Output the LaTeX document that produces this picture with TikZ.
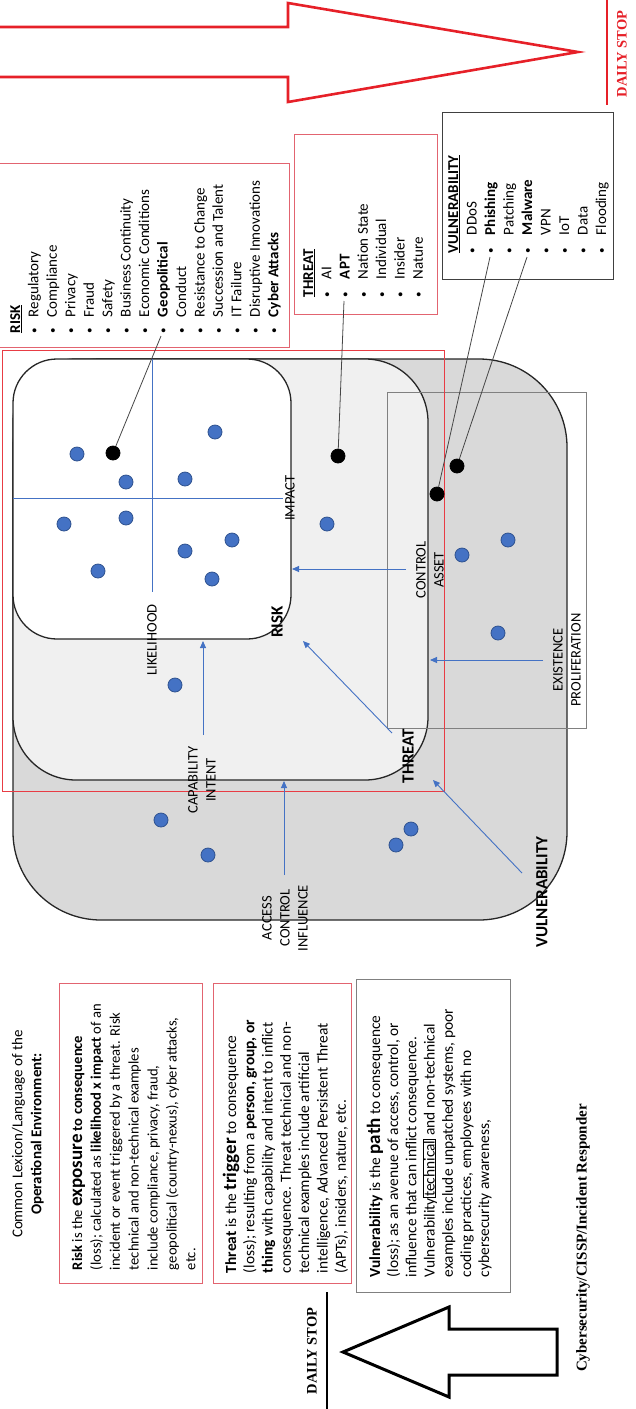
\documentclass[tikz,border=0pt]{standalone}
\usepackage{fontspec}
\setmainfont{Carlito}
\newfontfamily\timesbf[BoldFont={Liberation Serif Bold}]{Liberation Serif}
\usetikzlibrary{arrows.meta}

\definecolor{dotblue}{RGB}{68,114,196}
\definecolor{dotedge}{RGB}{47,82,143}
\definecolor{pinkline}{RGB}{226,100,112}
\definecolor{redline}{RGB}{232,60,68}
\definecolor{arrowred}{RGB}{230,32,40}
\definecolor{outergray}{RGB}{217,217,217}
\definecolor{midgray}{RGB}{240,240,240}
\definecolor{framegray}{RGB}{128,128,128}
\definecolor{leadgray}{RGB}{70,70,70}

% list bullet of fixed width
\newcommand{\lbul}[1]{\makebox[#1][l]{\raisebox{0.9pt}{\fontsize{11}{11}\selectfont\textbullet}}}
% enlarged bold keyword
\newcommand{\kw}[1]{{\bfseries\fontsize{19}{19}\selectfont #1}}

\begin{document}
\begin{tikzpicture}[x=1pt,y=-1pt,
  rt/.style={rotate=90, inner sep=0pt, outer sep=0pt},
  lst/.style={rt, anchor=base west, font=\fontsize{15}{18}\selectfont},
  dfl/.style={rt, anchor=base west, font=\fontsize{15.4}{19}\selectfont},
  dfs/.style={rt, anchor=base west, font=\fontsize{14.6}{19}\selectfont},
  hd/.style={rt, anchor=base, font=\fontsize{15}{19}\selectfont},
  lbl/.style={rt, align=center, font=\fontsize{14.5}{18}\selectfont},
  blbl/.style={rt, font=\bfseries\fontsize{17}{20}\selectfont},
  dot/.style={circle, fill=dotblue, draw=dotedge, line width=0.8pt, minimum size=14pt, inner sep=0pt},
  bdot/.style={dot, fill=black, draw=black},
  flow/.style={draw=dotblue, line width=0.9pt, -{Triangle[length=7pt,width=6pt]}},
  lead/.style={draw=leadgray, line width=0.8pt},
  pinkbox/.style={draw=pinkline, line width=0.9pt},
  greybox/.style={draw=framegray, line width=1pt},
  layer/.style={draw=black!85, line width=1.3pt}]
\useasboundingbox (0,0) rectangle (636,1409);

% ---------- top banner arrow ----------
\draw[arrowred, line width=2.6pt, miter limit=20]
  (-10,27) -- (288,27) -- (288,3) -- (578,52) -- (288,102) -- (288,77) -- (-10,77) -- cycle;
\draw[arrowred, line width=2.4pt] (607,-5) -- (607,105);
\node[rt, text=arrowred, font=\timesbf\bfseries\fontsize{14.5}{17}\selectfont] (stoptop) at (622,54) {DAILY STOP};

% ---------- example lists ----------
\draw[pinkbox] (-1,163) rectangle (289,347);
\node[lst] (riskhead) at (20,333) {\underline{\textbf{RISK}}};
\foreach \t [count=\i] in {Regulatory,Compliance,Privacy,Fraud,Safety,Business Continuity,Economic Conditions,{\textbf{Geopolitical}},Conduct,Resistance to Change,Succession and Talent,IT Failure,Disruptive Innovations,{\textbf{Cyber Attacks}}}
  \node[lst, name=risk\i] at ({20+18.45*\i},333) {\lbul{16pt}\t};

\draw[pinkbox] (294,134) rectangle (437,314);
\node[lst] (threathead) at (313,297) {\underline{\textbf{THREAT}}};
\foreach \t [count=\i] in {AI,{\textbf{APT}},Nation State,Individual,Insider,Nature}
  \node[lst, name=threat\i] at ({313+18.3*\i},297) {\lbul{18pt}\t};

\draw[draw=black!75, line width=1pt] (442,112) rectangle (613,279);
\node[lst] (vulnhead) at (458,253) {\underline{\textbf{VULNERABILITY}}};
\foreach \t [count=\i] in {DDoS,{\textbf{Phishing}},Patching,{\textbf{Malware}},VPN,IoT,Data,Flooding}
  \node[lst, name=vuln\i] at ({458+18.5*\i},253) {\lbul{18pt}\t};

% ---------- nested layers ----------
\draw[layer, fill=outergray, rounded corners=88pt] (13,359) rectangle (567,920);
\draw[layer, fill=midgray, rounded corners=63pt] (13,359) rectangle (428,780);
\draw[layer, fill=white, rounded corners=44pt] (13,359) rectangle (291,639);

% quadrant axes
\draw[dotblue, line width=0.7pt] (152,359) -- (152,592);
\draw[dotblue, line width=0.7pt] (13,498) -- (283,498);

% frames
\draw[greybox] (387,392) rectangle (586,728);
\draw[redline, line width=0.9pt] (2,350) rectangle (444,791);

% labels
\node[lbl] (impact) at (290,498) {IMPACT};
\node[lbl] (likely) at (152,640) {LIKELIHOOD};
\node[blbl] (risklbl) at (277,622) {RISK};
\node[blbl] (threatlbl) at (408,756) {THREAT};
\node[blbl] (vulnlbl) at (542,892) {VULNERABILITY};
\node[lbl] (ctrlasset) at (430,570) {CONTROL\\ASSET};
\node[lbl] (exprol) at (567,660) {EXISTENCE\\PROLIFERATION};
\node[lbl] (capint) at (202,780) {CAPABILITY\\INTENT};
\node[lbl] (aci) at (285,918) {ACCESS\\CONTROL\\INFLUENCE};

% flow arrows
\coordinate (a1s) at (406,569); \coordinate (a1e) at (292,569);
\coordinate (a2s) at (543,660); \coordinate (a2e) at (430,660);
\coordinate (a3s) at (203,735); \coordinate (a3e) at (203,641);
\coordinate (a4s) at (284,875); \coordinate (a4e) at (284,781);
\coordinate (a5s) at (392,733); \coordinate (a5e) at (303,641);
\coordinate (a6s) at (522,873); \coordinate (a6e) at (433,780);
\foreach \k in {1,...,6} \draw[flow] (a\k s) -- (a\k e);

% event dots
\foreach \p [count=\i] in {(77,454),(126,482),(215,432),(185,479),(64,524),(126,518),(98,571),(185,551),(232,540),(212,579),(327,524),(462,555),(508,540),(498,633),(175,685),(161,820),(208,855),(411,829),(396,845)}
  \node[dot, name=ev\i] at \p {};
\node[bdot] (geo) at (113,453) {};
\node[bdot] (apt) at (338,456) {};
\node[bdot] (phish) at (437,494) {};
\node[bdot] (malw) at (457,466) {};

% leader lines from list entries
\coordinate (geoL) at (161,336);
\coordinate (aptL) at (344,301);
\coordinate (phishL) at (490,257);
\coordinate (malwL) at (527,257);
\draw[lead] (geoL) -- (geo);
\draw[lead] (aptL) -- (apt);
\draw[lead] (phishL) -- (phish);
\draw[lead] (malwL) -- (malw);

% ---------- lexicon ----------
\node[hd] (lex1) at (22.5,1134) {Common Lexicon/Language of the};
\node[hd, font=\bfseries\fontsize{15}{19}\selectfont] (lex2) at (41.5,1134) {Operational Environment:};

\draw[pinkbox] (59,983) rectangle (202,1283);
\foreach \t [count=\i] in {{\textbf{Risk} is the \kw{exposure} \textbf{to consequence}},{(loss); calculated as \textbf{likelihood x impact} of an},{incident or event triggered by a threat. Risk},{technical and non-technical examples},{include compliance, privacy, fraud,},{geopolitical (country-nexus), cyber attacks,},{etc.}}
  \node[dfs, name=rdef\i] at ({82+18.9*(\i-1)},1270) {\t};

\draw[pinkbox] (213,983) rectangle (351,1283);
\foreach \t [count=\i] in {{\textbf{Threat} is the \kw{trigger} to consequence},{(loss); resulting from a \textbf{person, group, or}},{\textbf{thing} with capability and intent to inflict},{consequence. Threat technical and non-},{technical examples include artificial},{intelligence, Advanced Persistent Threat},{(APTs), insiders, nature, etc.}}
  \node[dfl, name=tdef\i] at ({236+18.3*(\i-1)},1273) {\t};

\draw[greybox] (356,979) rectangle (510,1292);
\foreach \t [count=\i] in {{\textbf{Vulnerability} is the \kw{path} to consequence},{(loss); as an avenue of access, control, or},{influence that can inflict consequence.},{Vulnerability{\fboxsep=0.6pt\fboxrule=0.6pt\fbox{technical}} and non-technical},{examples include unpatched systems, poor},{coding practices, employees with no},{cybersecurity awareness,}}
  \node[dfl, name=vdef\i] at ({380+18.2*(\i-1)},1277) {\t};

% ---------- bottom ----------
\draw[black, line width=3pt, miter limit=20]
  (343,1352) -- (449,1307) -- (449,1329) -- (557,1329) -- (557,1375) -- (449,1375) -- (449,1397) -- cycle;
\draw[black, line width=2.4pt] (327,1292) -- (327,1415);
\node[rt, font=\timesbf\bfseries\fontsize{14.5}{17}\selectfont] (stopbot) at (312,1351) {DAILY STOP};
\node[rt, font=\timesbf\bfseries\fontsize{15}{18}\selectfont] (role) at (583,1238) {Cybersecurity/CISSP/Incident Responder};
\end{tikzpicture}
\end{document}
